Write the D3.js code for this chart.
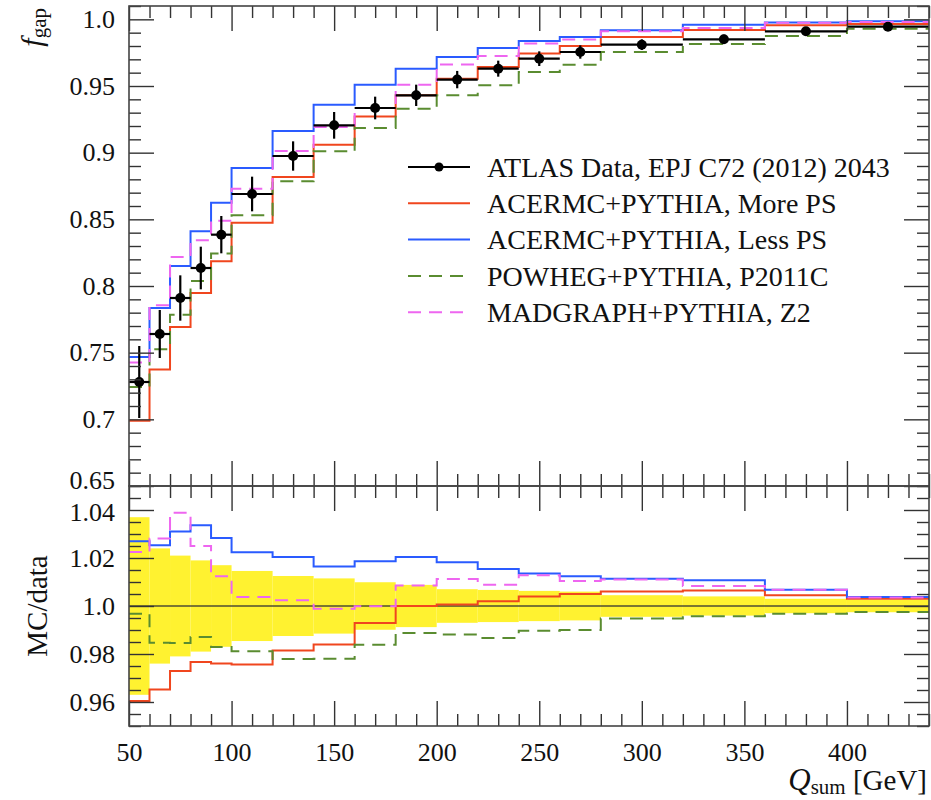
<!DOCTYPE html>
<html>
<head>
<meta charset="utf-8">
<script src="https://cdn.jsdelivr.net/npm/d3@7"></script>
<style>
body { margin: 0; background: #fff; }
svg, text { font-family: "Liberation Serif", "Times New Roman", serif; fill: #111; }
</style>
</head>
<body>
<div id="chart"></div>
<script>
///data
const binEdges = [50, 60, 70, 80, 90, 100, 120, 140, 160, 180, 200, 220, 240, 260, 280, 320, 360, 400, 440];
const dataVal = [0.728, 0.764, 0.791, 0.8135, 0.8385, 0.869, 0.8975, 0.9205, 0.9335, 0.943, 0.9548, 0.963, 0.9705, 0.9755, 0.981, 0.985, 0.991, 0.9945];
const dataErr = [0.027, 0.018, 0.017, 0.016, 0.014, 0.013, 0.011, 0.010, 0.0085, 0.008, 0.0065, 0.006, 0.0055, 0.005, 0.004, 0.0035, 0.003, 0.0025];
const morePS = [0.699, 0.7373, 0.7692, 0.7947, 0.8185, 0.8475, 0.8817, 0.906, 0.9272, 0.943, 0.9555, 0.9642, 0.9743, 0.98, 0.9867, 0.992, 0.9955, 0.9965];
const lessPS = [0.7467, 0.7835, 0.815, 0.841, 0.8625, 0.8885, 0.9162, 0.936, 0.951, 0.963, 0.9717, 0.9785, 0.9837, 0.9867, 0.9918, 0.996, 0.9977, 0.9985];
const powheg = [0.7242, 0.7525, 0.7785, 0.8037, 0.8243, 0.853, 0.8785, 0.901, 0.9185, 0.933, 0.943, 0.9505, 0.9605, 0.966, 0.9755, 0.9815, 0.9875, 0.993];
const madgraph = [0.7427, 0.7855, 0.8217, 0.8343, 0.849, 0.873, 0.9012, 0.9192, 0.9335, 0.951, 0.9662, 0.9725, 0.9818, 0.9848, 0.991, 0.9935, 0.9975, 0.998];
// MC/data ratio panel
const bandErr = [0.037, 0.024, 0.021, 0.019, 0.017, 0.0146, 0.0125, 0.0115, 0.0099, 0.0088, 0.007, 0.0067, 0.0063, 0.006, 0.0045, 0.004, 0.003, 0.0026];
const rMorePS = [0.9604, 0.9652, 0.9729, 0.9767, 0.976, 0.9756, 0.9815, 0.984, 0.9929, 1.0, 1.0006, 1.002, 1.004, 1.005, 1.006, 1.0065, 1.0045, 1.003];
const rLessPS = [1.027, 1.0253, 1.031, 1.0336, 1.0283, 1.0224, 1.0204, 1.0165, 1.0186, 1.0204, 1.0182, 1.0154, 1.0135, 1.0124, 1.0114, 1.0107, 1.0068, 1.0038];
const rPowheg = [0.9968, 0.9847, 0.9846, 0.9871, 0.9829, 0.9811, 0.9779, 0.978, 0.9839, 0.9888, 0.9881, 0.9867, 0.9897, 0.99, 0.9948, 0.9957, 0.9968, 0.9975];
const rMadgraph = [1.0225, 1.0281, 1.0389, 1.025, 1.0124, 1.0038, 1.0024, 0.9989, 0.9999, 1.0085, 1.0113, 1.0089, 1.0128, 1.0104, 1.011, 1.0083, 1.0068, 1.0035];
///ticks
const xMajor = [50, 100, 150, 200, 250, 300, 350, 400];
const xLabels = ["50", "100", "150", "200", "250", "300", "350", "400"];
const yMainMajor = [0.65, 0.7, 0.75, 0.8, 0.85, 0.9, 0.95, 1.0];
const yMainLabels = ["0.65", "0.7", "0.75", "0.8", "0.85", "0.9", "0.95", "1.0"];
const yRatioMajor = [0.96, 0.98, 1.0, 1.02, 1.04];
const yRatioLabels = ["0.96", "0.98", "1.0", "1.02", "1.04"];
const legendNames = ["ATLAS Data, EPJ C72 (2012) 2043", "ACERMC+PYTHIA, More PS", "ACERMC+PYTHIA, Less PS", "POWHEG+PYTHIA, P2011C", "MADGRAPH+PYTHIA, Z2"];

///vars
const w = 931, h = 800;
const padL = 129, padR = 929, padT = 6, padM = 486, padB = 726;
const bigTick = 25, smallTick = 12;
const serif = "'Liberation Serif', 'Times New Roman', serif";

const series = [
  {main: morePS, ratio: rMorePS, color: "#f0461e", dash: null},
  {main: lessPS, ratio: rLessPS, color: "#2a5bff", dash: null},
  {main: powheg, ratio: rPowheg, color: "#5a8c30", dash: "13,8"},
  {main: madgraph, ratio: rMadgraph, color: "#ee66f0", dash: "13,8"}
];

const x = d3.scaleLinear().domain([50, 440]).range([padL, padR]);
const yMain = d3.scaleLinear().domain([0.65, 1.01]).range([padM, padT]);
const yRatio = d3.scaleLinear().domain([0.95, 1.05]).range([padB, padM]);

const xMinor = d3.range(50, 441, 10).filter(v => xMajor.indexOf(v) < 0);
const yMainMinor = d3.range(65, 102).map(v => v / 100).filter(v => !yMainMajor.some(m => Math.abs(m - v) < 1e-6));
const yRatioMinor = d3.range(190, 211).map(v => v / 200).filter(v => !yRatioMajor.some(m => Math.abs(m - v) < 1e-6));

///svg
const svg = d3.select("#chart").append("svg").attr("width", w).attr("height", h)
  .attr("font-family", serif);

const defs = svg.append("defs");
defs.append("clipPath").attr("id", "clipMain").append("rect")
  .attr("x", padL).attr("y", padT).attr("width", padR - padL).attr("height", padM - padT);
defs.append("clipPath").attr("id", "clipRatio").append("rect")
  .attr("x", padL).attr("y", padM).attr("width", padR - padL).attr("height", padB - padM);

const stepPts = vals => binEdges.map((e, i) => [e, vals[Math.min(i, vals.length - 1)]]);
const stepLine = ys => d3.line().x(d => x(d[0])).y(d => ys(d[1])).curve(d3.curveStepAfter);
const bins = dataVal.map((v, i) => ({lo: binEdges[i], hi: binEdges[i + 1], mid: (binEdges[i] + binEdges[i + 1]) / 2, v: v, e: dataErr[i], b: bandErr[i]}));

///main panel
const gMain = svg.append("g").attr("clip-path", "url(#clipMain)");
series.forEach(s => {
  gMain.append("path").datum(stepPts(s.main))
    .attr("d", stepLine(yMain))
    .attr("fill", "none").attr("stroke", s.color).attr("stroke-width", 2)
    .attr("stroke-dasharray", s.dash);
});
// data points
gMain.selectAll(".xbar").data(bins).join("line")
  .attr("x1", d => x(d.lo)).attr("x2", d => x(d.hi))
  .attr("y1", d => yMain(d.v)).attr("y2", d => yMain(d.v))
  .attr("stroke", "#000").attr("stroke-width", 2.2);
gMain.selectAll(".ybar").data(bins).join("line")
  .attr("x1", d => x(d.mid)).attr("x2", d => x(d.mid))
  .attr("y1", d => yMain(d.v - d.e)).attr("y2", d => yMain(d.v + d.e))
  .attr("stroke", "#000").attr("stroke-width", 2.2);
gMain.selectAll(".dot").data(bins).join("circle")
  .attr("cx", d => x(d.mid)).attr("cy", d => yMain(d.v)).attr("r", 5)
  .attr("fill", "#000");

///ratio panel
const gRatio = svg.append("g").attr("clip-path", "url(#clipRatio)");
gRatio.selectAll(".band").data(bins).join("rect")
  .attr("x", d => x(d.lo)).attr("width", d => x(d.hi) - x(d.lo))
  .attr("y", d => yRatio(1 + d.b)).attr("height", d => yRatio(1 - d.b) - yRatio(1 + d.b))
  .attr("fill", "#fff230");
gRatio.append("line")
  .attr("x1", padL).attr("x2", padR).attr("y1", yRatio(1)).attr("y2", yRatio(1))
  .attr("stroke", "#333").attr("stroke-opacity", 0.65).attr("stroke-width", 2);
series.forEach(s => {
  gRatio.append("path").datum(stepPts(s.ratio))
    .attr("d", stepLine(yRatio))
    .attr("fill", "none").attr("stroke", s.color).attr("stroke-width", 2)
    .attr("stroke-dasharray", s.dash);
});

///axes
function ticks(axis, tr, vals, size, labels, pad) {
  const a = axis.tickValues(vals).tickSize(-size).tickPadding(pad || 0)
    .tickFormat(labels ? (d, i) => labels[i] : "");
  const g = svg.append("g").attr("transform", tr).call(a)
    .attr("font-family", serif).attr("font-size", 26);
  g.select(".domain").remove();
  g.selectAll(".tick line").attr("stroke", "#333").attr("stroke-width", 1.4);
  g.selectAll("text").attr("fill", "#111");
  return g;
}
// main panel
const yMainAxis = ticks(d3.axisLeft(yMain), `translate(${padL},0)`, yMainMajor, bigTick, yMainLabels, 14);
// lift the lowest label a little so it clears the ratio panel's top label
yMainAxis.selectAll("text").filter(d => d === 0.65).attr("dy", "0.1em");
ticks(d3.axisLeft(yMain), `translate(${padL},0)`, yMainMinor, smallTick);
ticks(d3.axisRight(yMain), `translate(${padR},0)`, yMainMajor, bigTick);
ticks(d3.axisRight(yMain), `translate(${padR},0)`, yMainMinor, smallTick);
ticks(d3.axisTop(x), `translate(0,${padT})`, xMajor, bigTick);
ticks(d3.axisTop(x), `translate(0,${padT})`, xMinor, smallTick);
ticks(d3.axisBottom(x), `translate(0,${padM})`, xMajor, bigTick);
ticks(d3.axisBottom(x), `translate(0,${padM})`, xMinor, smallTick);
// ratio panel
const yRatioAxis = ticks(d3.axisLeft(yRatio), `translate(${padL},0)`, yRatioMajor, bigTick, yRatioLabels, 14);
yRatioAxis.selectAll("text").filter(d => d === 1.04).attr("dy", "0.4em");
ticks(d3.axisLeft(yRatio), `translate(${padL},0)`, yRatioMinor, smallTick);
ticks(d3.axisRight(yRatio), `translate(${padR},0)`, yRatioMajor, bigTick);
ticks(d3.axisRight(yRatio), `translate(${padR},0)`, yRatioMinor, smallTick);
ticks(d3.axisTop(x), `translate(0,${padM})`, xMajor, bigTick);
ticks(d3.axisTop(x), `translate(0,${padM})`, xMinor, smallTick);
ticks(d3.axisBottom(x), `translate(0,${padB})`, xMajor, bigTick, xLabels, 17);
ticks(d3.axisBottom(x), `translate(0,${padB})`, xMinor, smallTick);

///frames
[[padT, padM], [padM, padB]].forEach(p => {
  svg.append("rect").attr("x", padL).attr("y", p[0])
    .attr("width", padR - padL).attr("height", p[1] - p[0])
    .attr("fill", "none").attr("stroke", "#444").attr("stroke-width", 1.6);
});

///axis titles
const fg = svg.append("text").attr("transform", "translate(42,8) rotate(-90)").attr("text-anchor", "end");
fg.append("tspan").attr("font-style", "italic").attr("font-size", 30).text("f");
fg.append("tspan").attr("font-size", 21).attr("dy", 4).text("gap");

svg.append("text").attr("transform", `translate(47,${yRatio(1)}) rotate(-90)`)
  .attr("text-anchor", "middle").attr("font-size", 29).text("MC/data");

const xt = svg.append("text").attr("x", 927).attr("y", 790).attr("text-anchor", "end").attr("font-size", 29);
xt.append("tspan").attr("font-style", "italic").attr("font-size", 31).text("Q");
xt.append("tspan").attr("font-size", 21).attr("dy", 4).text("sum");
xt.append("tspan").attr("dy", -4).text(" [GeV]");

///legend
const legend = svg.append("g").attr("transform", "translate(408,167)");
const legendStyles = [{color: "#000", dash: null}].concat(series);
legendNames.forEach((name, i) => {
  const row = legend.append("g").attr("transform", `translate(0,${i * 36.3})`);
  row.append("line").attr("x1", 0).attr("x2", 62)
    .attr("stroke", legendStyles[i].color).attr("stroke-width", 2)
    .attr("stroke-dasharray", legendStyles[i].dash);
  if (i === 0) row.append("circle").attr("cx", 31).attr("r", 4.5).attr("fill", "#000");
  row.append("text").attr("x", 79).attr("dy", "0.35em").attr("font-size", 28).text(name);
});
</script>
</body>
</html>
